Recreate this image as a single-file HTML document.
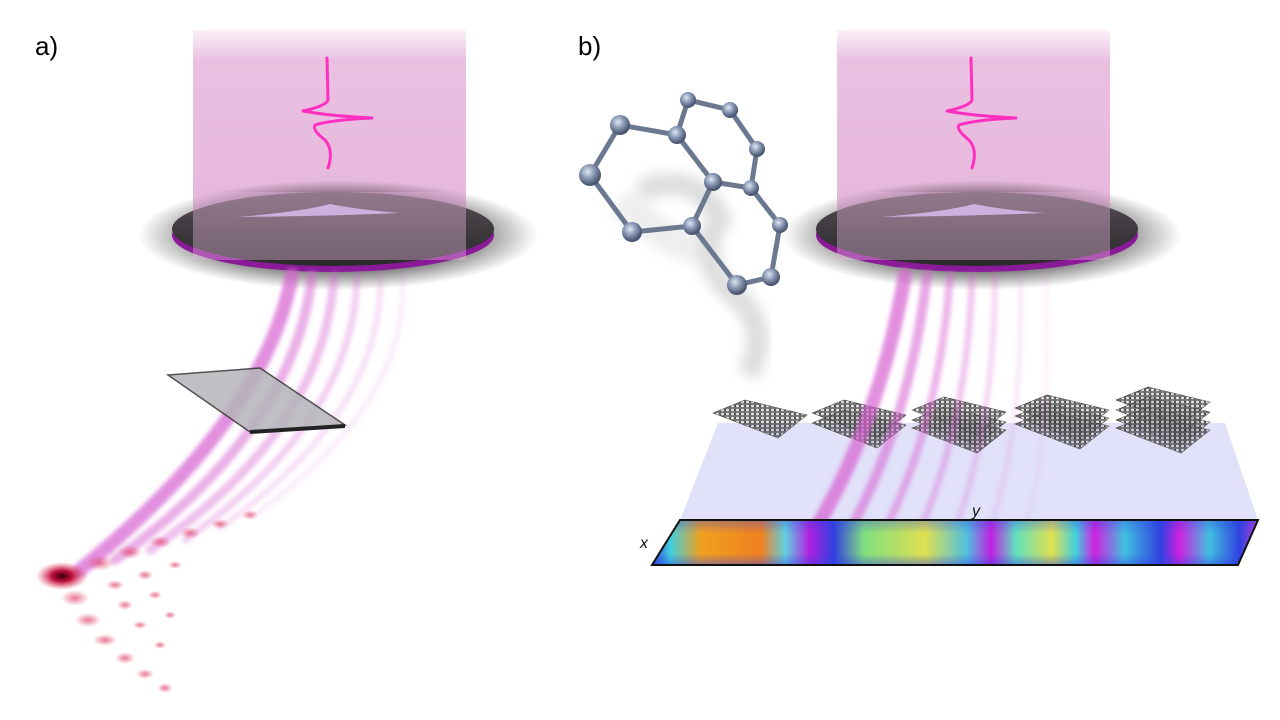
<!DOCTYPE html>
<html><head><meta charset="utf-8"><style>
html,body{margin:0;padding:0;background:#fff;width:1280px;height:720px;overflow:hidden}
</style></head><body>
<svg width="1280" height="720" viewBox="0 0 1280 720" xmlns="http://www.w3.org/2000/svg">
<defs>
<linearGradient id="beamTop" x1="0" y1="0" x2="0" y2="1">
<stop offset="0" stop-color="#e9bde0" stop-opacity="0.2"/>
<stop offset="0.15" stop-color="#e9bde0" stop-opacity="0.95"/>
<stop offset="1" stop-color="#e6b6dc"/>
</linearGradient>
<radialGradient id="shadow" cx="0.5" cy="0.5" r="0.5">
<stop offset="0.6" stop-color="#000" stop-opacity="0.6"/>
<stop offset="1" stop-color="#000" stop-opacity="0"/>
</radialGradient>
<linearGradient id="discG" x1="0" y1="0" x2="0" y2="1">
<stop offset="0" stop-color="#5a5058"/>
<stop offset="0.5" stop-color="#3e3a3e"/>
<stop offset="1" stop-color="#2a2a2a"/>
</linearGradient>
<radialGradient id="spot" cx="0.5" cy="0.5" r="0.5">
<stop offset="0" stop-color="#300010"/>
<stop offset="0.4" stop-color="#c0103a"/>
<stop offset="1" stop-color="#e0406a" stop-opacity="0"/>
</radialGradient>
<radialGradient id="dot" cx="0.5" cy="0.5" r="0.5">
<stop offset="0" stop-color="#e0406a" stop-opacity="0.7"/>
<stop offset="1" stop-color="#e0406a" stop-opacity="0"/>
</radialGradient>
<radialGradient id="atom" cx="0.4" cy="0.35" r="0.6">
<stop offset="0" stop-color="#dfe6f2"/>
<stop offset="0.5" stop-color="#8a9ab5"/>
<stop offset="1" stop-color="#4a5570"/>
</radialGradient>
<linearGradient id="cmap" x1="0" y1="0" x2="1" y2="0">
<stop offset="0" stop-color="#3040e0"/>
<stop offset="0.03" stop-color="#40d0e0"/>
<stop offset="0.08" stop-color="#f0a020"/>
<stop offset="0.18" stop-color="#f08020"/>
<stop offset="0.22" stop-color="#60d0e0"/>
<stop offset="0.26" stop-color="#b020e0"/>
<stop offset="0.3" stop-color="#3040e0"/>
<stop offset="0.35" stop-color="#80e080"/>
<stop offset="0.45" stop-color="#e0e050"/>
<stop offset="0.52" stop-color="#50c0e0"/>
<stop offset="0.56" stop-color="#c020e0"/>
<stop offset="0.6" stop-color="#60e0c0"/>
<stop offset="0.66" stop-color="#e0e050"/>
<stop offset="0.7" stop-color="#40d0e0"/>
<stop offset="0.73" stop-color="#d020e0"/>
<stop offset="0.78" stop-color="#40c0e0"/>
<stop offset="0.84" stop-color="#3040e0"/>
<stop offset="0.87" stop-color="#d020e0"/>
<stop offset="0.92" stop-color="#40c0e0"/>
<stop offset="0.97" stop-color="#3040e0"/>
<stop offset="1" stop-color="#c040e0"/>
</linearGradient>
<linearGradient id="cmapV" x1="0" y1="0" x2="0" y2="1">
<stop offset="0" stop-color="#3040e0" stop-opacity="0.35"/>
<stop offset="0.3" stop-color="#3040e0" stop-opacity="0"/>
<stop offset="0.75" stop-color="#3040e0" stop-opacity="0"/>
<stop offset="1" stop-color="#3040e0" stop-opacity="0.45"/>
</linearGradient>
<pattern id="hex" width="5" height="4" patternUnits="userSpaceOnUse">
<rect width="5" height="4" fill="#888" fill-opacity="0.25"/>
<path d="M0 2 L1.2 0 L3.8 0 L5 2 L3.8 4 L1.2 4 Z" fill="none" stroke="#333" stroke-width="0.9"/>
</pattern>
<filter id="blur2"><feGaussianBlur stdDeviation="2.2"/></filter>
<filter id="blur6"><feGaussianBlur stdDeviation="6"/></filter>
</defs>

<text x="35" y="55" font-family="Liberation Sans, sans-serif" font-size="26" fill="#000">a)</text>
<text x="578" y="55" font-family="Liberation Sans, sans-serif" font-size="26" fill="#000">b)</text>

<rect x="193" y="30" width="273" height="200" fill="url(#beamTop)"/>
<rect x="837" y="30" width="273" height="200" fill="url(#beamTop)"/>
<g stroke="#ff30c0" stroke-width="3" fill="none" stroke-linecap="round" stroke-linejoin="round">
<path d="M327 58 L328 100 Q326 106 303 111 Q330 116 372 118 Q330 120 315 125 Q312 130 325 140 Q334 150 328 168"/>
<path d="M971 58 L972 100 Q970 106 947 111 Q974 116 1016 118 Q974 120 959 125 Q956 130 969 140 Q978 150 972 168"/>
</g>

<g>
<ellipse cx="338" cy="235" rx="200" ry="55" fill="url(#shadow)"/>
<ellipse cx="333" cy="235" rx="161" ry="37" fill="#8a1a98"/>
<ellipse cx="333" cy="229" rx="161" ry="37" fill="url(#discG)"/>
<path d="M237 217 Q300 212 330 204 Q360 210 400 213 Q330 216 237 217Z" fill="#c8b8f0" opacity="0.9"/>
<rect x="193" y="192" width="273" height="68" fill="#e6b6dc" opacity="0.4"/>
</g>
<g>
<ellipse cx="982" cy="235" rx="200" ry="55" fill="url(#shadow)"/>
<ellipse cx="977" cy="235" rx="161" ry="37" fill="#8a1a98"/>
<ellipse cx="977" cy="229" rx="161" ry="37" fill="url(#discG)"/>
<path d="M881 217 Q944 212 974 204 Q1004 210 1044 213 Q974 216 881 217Z" fill="#c8b8f0" opacity="0.9"/>
<rect x="837" y="192" width="273" height="68" fill="#e6b6dc" opacity="0.4"/>
</g>

<g fill="none" stroke="#d65fd0" stroke-linecap="round" filter="url(#blur2)">
<path d="M292 275 Q265 420 80 570" stroke-width="14" opacity="0.7"/>
<path d="M312 275 Q295 430 115 560" stroke-width="10" opacity="0.5"/>
<path d="M334 275 Q325 430 150 550" stroke-width="9" opacity="0.4"/>
<path d="M357 275 Q355 420 185 540" stroke-width="7" opacity="0.3"/>
<path d="M380 275 Q385 410 220 528" stroke-width="6" opacity="0.2"/>
<path d="M402 275 Q412 400 255 515" stroke-width="5" opacity="0.13"/>
</g>
<polygon points="168,375 260,368 345,425 250,432" fill="#b4b4ba" stroke="#333" stroke-width="1.5" opacity="0.85"/>
<polygon points="250,430 345,424 345,428 250,434" fill="#222"/>
<g>
<ellipse cx="62" cy="576" rx="26" ry="14" fill="url(#spot)"/>
<g fill="url(#dot)">
<ellipse cx="100" cy="563" rx="14" ry="8"/><ellipse cx="130" cy="552" rx="12" ry="7"/><ellipse cx="160" cy="542" rx="11" ry="6"/><ellipse cx="190" cy="533" rx="10" ry="6"/><ellipse cx="220" cy="524" rx="9" ry="5"/><ellipse cx="250" cy="515" rx="8" ry="5"/>
<ellipse cx="75" cy="598" rx="14" ry="8"/><ellipse cx="88" cy="620" rx="13" ry="7"/><ellipse cx="105" cy="640" rx="12" ry="6"/><ellipse cx="125" cy="658" rx="10" ry="6"/><ellipse cx="145" cy="674" rx="9" ry="5"/><ellipse cx="165" cy="688" rx="8" ry="5"/>
<ellipse cx="115" cy="585" rx="9" ry="5"/><ellipse cx="145" cy="575" rx="8" ry="5"/><ellipse cx="175" cy="565" rx="7" ry="4"/><ellipse cx="125" cy="605" rx="8" ry="5"/><ellipse cx="155" cy="595" rx="7" ry="4"/><ellipse cx="140" cy="625" rx="7" ry="4"/><ellipse cx="170" cy="615" rx="6" ry="4"/><ellipse cx="160" cy="645" rx="6" ry="4"/>
</g>
</g>

<polygon points="718,423 1225,423 1258,520 680,520" fill="#dcdcf8" opacity="0.85"/>
<g filter="url(#blur6)" opacity="0.5" fill="none" stroke="#bbb">
<path d="M640 190 Q700 170 720 220 Q690 260 740 300 Q770 330 748 375" stroke-width="22"/>
<path d="M620 200 Q660 240 700 250" stroke-width="30" opacity="0.5"/>
</g>
<g stroke="#555" stroke-width="0.6">
<polygon points="713,413 745,400 807,415 778,438" fill="url(#hex)"/>
<polygon points="812,413 844,400 906,415 877,438" fill="url(#hex)"/><polygon points="812,423 844,410 906,425 877,448" fill="url(#hex)"/>
<polygon points="912,410 944,397 1006,412 977,435" fill="url(#hex)"/><polygon points="912,420 944,407 1006,422 977,445" fill="url(#hex)"/><polygon points="912,428 944,415 1006,430 977,453" fill="url(#hex)"/>
<polygon points="1015,408 1047,395 1109,410 1080,433" fill="url(#hex)"/><polygon points="1015,416 1047,403 1109,418 1080,441" fill="url(#hex)"/><polygon points="1015,424 1047,411 1109,426 1080,449" fill="url(#hex)"/>
<polygon points="1116,400 1148,387 1210,402 1181,425" fill="url(#hex)"/><polygon points="1116,410 1148,397 1210,412 1181,435" fill="url(#hex)"/><polygon points="1116,420 1148,407 1210,422 1181,445" fill="url(#hex)"/><polygon points="1116,428 1148,415 1210,430 1181,453" fill="url(#hex)"/>
</g>
<g fill="none" stroke="#d65fd0" stroke-linecap="round" filter="url(#blur2)">
<path d="M905 275 Q880 420 815 530" stroke-width="14" opacity="0.7"/>
<path d="M927 275 Q910 420 850 530" stroke-width="10" opacity="0.55"/>
<path d="M950 275 Q940 420 885 530" stroke-width="8" opacity="0.45"/>
<path d="M972 275 Q968 420 920 530" stroke-width="7" opacity="0.35"/>
<path d="M995 275 Q995 420 955 530" stroke-width="6" opacity="0.25"/>
<path d="M1020 275 Q1025 420 990 530" stroke-width="5" opacity="0.15"/>
<path d="M1045 275 Q1055 420 1025 530" stroke-width="4" opacity="0.1"/>
</g>
<polygon points="680,520 1258,520 1238,565 652,565" fill="url(#cmap)"/>
<polygon points="680,520 1258,520 1238,565 652,565" fill="url(#cmapV)" stroke="#111" stroke-width="2"/>
<text x="972" y="516" font-family="Liberation Sans, sans-serif" font-size="16" font-style="italic" fill="#111">y</text>
<text x="640" y="548" font-family="Liberation Sans, sans-serif" font-size="16" font-style="italic" fill="#111">x</text>

<g stroke="#6a7890" stroke-width="5" fill="none">
<path d="M620 125 L677 135 L688 100 L730 110 L757 149 L751 188 L780 225 L771 277 L737 285 L692 226 L632 232 L590 175 Z"/>
<path d="M677 135 L713 182 L692 226 M713 182 L751 188"/>
</g>
<g fill="url(#atom)">
<circle cx="620" cy="125" r="10"/><circle cx="590" cy="175" r="11"/><circle cx="632" cy="232" r="10"/><circle cx="692" cy="226" r="9"/><circle cx="713" cy="182" r="9"/><circle cx="677" cy="135" r="9"/><circle cx="688" cy="100" r="8"/><circle cx="730" cy="110" r="8"/><circle cx="757" cy="149" r="8"/><circle cx="751" cy="188" r="8"/><circle cx="780" cy="225" r="8"/><circle cx="771" cy="277" r="9"/><circle cx="737" cy="285" r="10"/>
</g>
</svg>
</body></html>
